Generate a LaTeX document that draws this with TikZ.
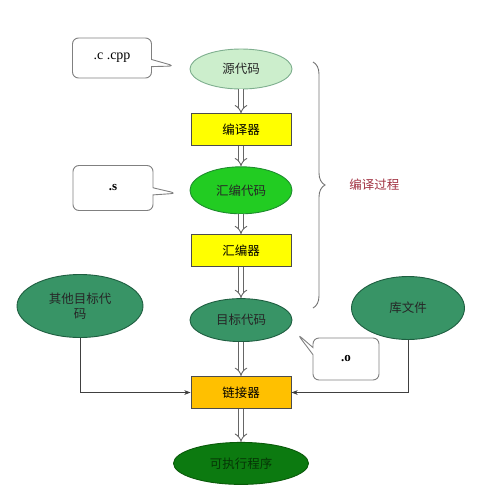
\documentclass[tikz,border=0pt]{standalone}
\usepackage{fontspec}
\newfontfamily\cjk{Noto Sans CJK SC}
\newfontfamily\tms{Liberation Serif}
\usetikzlibrary{arrows.meta,positioning,shapes.geometric,shapes.callouts,decorations.pathreplacing,calc}
\definecolor{paleg}{HTML}{CCEECC}
\definecolor{paleline}{HTML}{7FAF8F}
\definecolor{brightg}{HTML}{22CC22}
\definecolor{brightline}{HTML}{1E8C2E}
\definecolor{tealg}{HTML}{389466}
\definecolor{tealline}{HTML}{1E5E40}
\definecolor{darkg}{HTML}{0C7A10}
\definecolor{darkline}{HTML}{0A5A0A}
\definecolor{boxyel}{HTML}{FFFF00}
\definecolor{boxamb}{HTML}{FFC000}
\definecolor{redbrown}{HTML}{A03040}

\begin{document}
\begin{tikzpicture}[
    x=1pt, y=-1pt,
    oval/.style={draw, line width=0.9pt, ellipse, inner sep=0pt, align=center, minimum width=102pt, minimum height=42pt, text=black!85, font=\cjk\fontsize{12.5}{15}\selectfont},
    box/.style={draw=black!70, line width=0.9pt, minimum width=100pt, minimum height=32pt, font=\cjk\fontsize{12.5}{15}\selectfont},
    note/.style={rectangle callout, draw=black!50, line width=0.9pt, rounded corners=6pt, fill=white, font=\tms\fontsize{14}{16}\selectfont},
    dbl/.style={draw=black!60, line width=0.9pt, double=white, double distance=3.5pt, -{Implies[length=5pt]}},
    link/.style={-{Stealth[length=2.2mm]}, line width=0.7pt, black!75}
]
\useasboundingbox (0,0) rectangle (479,491);

% compile chain
\node[oval, fill=paleg, draw=paleline, minimum height=40pt] (src) at (241,69) {源代码};
\node[box, fill=boxyel, below=24pt of src] (cc) {编译器};
\node[oval, fill=brightg, draw=brightline, minimum height=47pt, below=20pt of cc] (asm) {汇编代码};
\node[box, fill=boxyel, below=20pt of asm] (as) {汇编器};
\node[oval, fill=tealg, draw=tealline, minimum height=43pt, below=31pt of as] (obj) {目标代码};
\node[box, fill=boxamb, below=34pt of obj] (ld) {链接器};
\node[oval, fill=darkg, draw=darkline, text=darkline!60!black, minimum width=135pt, below=33pt of ld] (exe) {可执行程序};

% side inputs
\node[oval, fill=tealg, draw=tealline, minimum width=126pt, minimum height=63pt] (oth) at (80,306) {其他目标代\\码};
\node[oval, fill=tealg, draw=tealline, minimum width=113pt, minimum height=63pt] (lib) at (408,308) {库文件};

% file suffix notes
\node[note, minimum width=79pt, minimum height=40pt, callout absolute pointer={($(src.west)+(-15,-3)$)}] (csuf) at (112,58) {.c .cpp};
\node[note, font=\tms\bfseries\fontsize{13}{15}\selectfont, minimum width=80pt, minimum height=45pt, callout absolute pointer={($(asm.west)+(-13,3)$)}] (ssuf) at (113,188) {.s};
\node[note, font=\tms\bfseries\fontsize{13}{15}\selectfont, minimum width=66pt, minimum height=42pt, callout absolute pointer={($(obj.east)+(5,14)$)}] (osuf) at (346,359) {.o};

% brace
\coordinate (btop) at (313,62);
\coordinate (bbot) at (313,308);
\draw[black!55, line width=0.9pt, decorate, decoration={brace, amplitude=12pt}] (btop) -- (bbot)
    node[midway, right=36pt, inner sep=0pt, text=redbrown, font=\cjk\fontsize{12.5}{15}\selectfont] (lbl) {编译过程};

% connectors
\draw[dbl] (src) -- (cc);
\draw[dbl] (cc) -- (asm);
\draw[dbl] (asm) -- (as);
\draw[dbl] (as) -- (obj);
\draw[dbl] (obj) -- (ld);
\draw[dbl] (ld) -- (exe);
\draw[link] (oth.south) |- (ld.west);
\draw[link] (lib.south) |- (ld.east);
\end{tikzpicture}
\end{document}
